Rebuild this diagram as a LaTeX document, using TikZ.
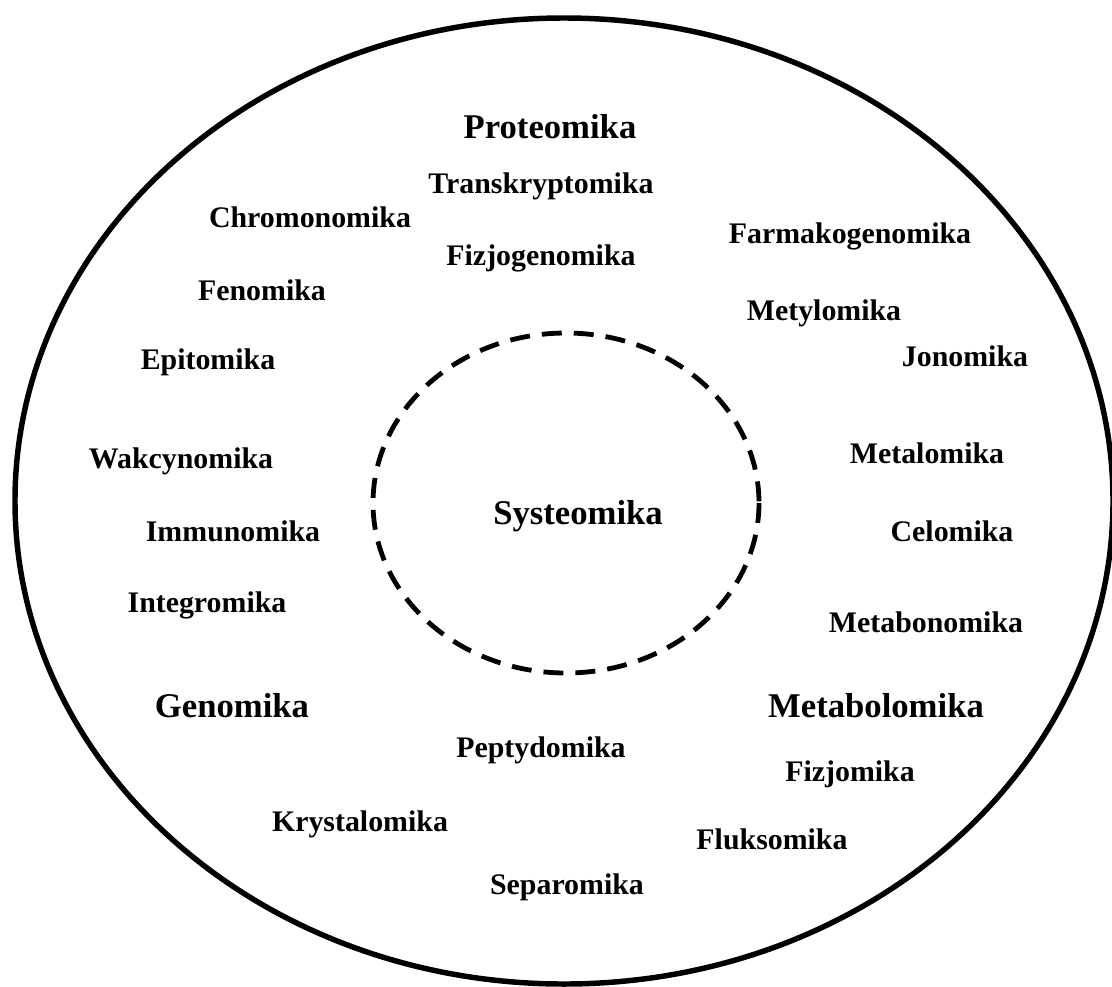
\documentclass[tikz,border=0pt]{standalone}
\usepackage{fontspec}
\setmainfont{Liberation Serif}
\begin{document}
\begin{tikzpicture}[x=0.75pt,y=-0.75pt,
  sm/.style={font=\bfseries\fontsize{22.4}{26}\selectfont, inner sep=0pt},
  lg/.style={font=\bfseries\fontsize{26}{30}\selectfont, inner sep=0pt}]
\useasboundingbox (0,0) rectangle (1112,986);
\begin{scope}
\clip (0,0) rectangle (1112,986);
\draw[line width=4.1pt] (564,501) ellipse [x radius=549, y radius=483];
\end{scope}
\draw[line width=3.6pt, dash pattern=on 15pt off 9pt] (566,503) ellipse [x radius=193, y radius=170];
\node[lg] (prot) at (550,127) {Proteomika};
\node[sm] (trans) at (541,186) {Transkryptomika};
\node[sm] (chrom) at (310,217) {Chromonomika};
\node[sm] (farm) at (850,236) {Farmakogenomika};
\node[sm] (fizjog) at (541,258) {Fizjogenomika};
\node[sm] (fen) at (262,290) {Fenomika};
\node[sm] (mety) at (824,313) {Metylomika};
\node[sm] (jon) at (965,356) {Jonomika};
\node[sm] (epi) at (208,362) {Epitomika};
\node[sm] (metal) at (927,453) {Metalomika};
\node[sm] (wak) at (181,461) {Wakcynomika};
\node[lg] (sys) at (578,516) {Systeomika};
\node[sm] (imm) at (233,531) {Immunomika};
\node[sm] (cel) at (952,531) {Celomika};
\node[sm] (integ) at (207,605) {Integromika};
\node[sm] (metabon) at (926,622) {Metabonomika};
\node[lg] (gen) at (232,706) {Genomika};
\node[lg] (metabol) at (876,706) {Metabolomika};
\node[sm] (pept) at (541,750) {Peptydomika};
\node[sm] (fizjo) at (850,774) {Fizjomika};
\node[sm] (kryst) at (360,824) {Krystalomika};
\node[sm] (fluks) at (772,839) {Fluksomika};
\node[sm] (sep) at (567,887) {Separomika};
\end{tikzpicture}
\end{document}
